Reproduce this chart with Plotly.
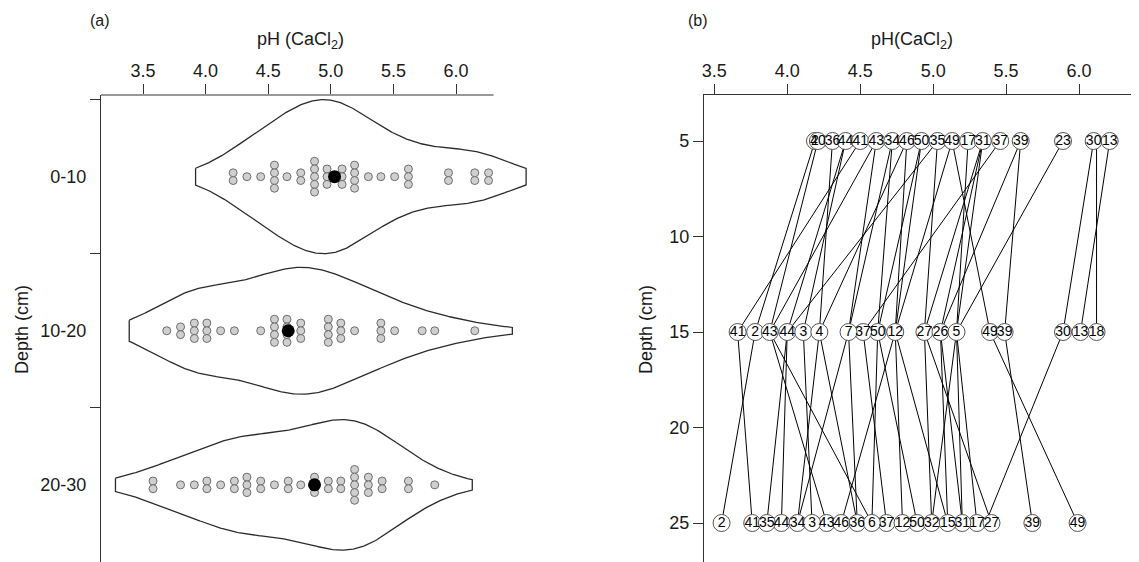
import numpy as np
import plotly.graph_objects as go

FONT = "Liberation Sans, Arial, Helvetica, sans-serif"

# ---------------- Panel (a): pH by depth class (dot columns + violin) ----------------
depth_classes = ["0-10", "10-20", "20-30"]

ph_bins_0_10 = [4.22, 4.33, 4.44, 4.55, 4.65, 4.76, 4.87, 4.97, 5.09, 5.19, 5.30, 5.40, 5.51, 5.62, 5.94, 6.15, 6.26]
counts_0_10 = [2, 1, 1, 4, 1, 2, 5, 3, 3, 4, 1, 1, 1, 3, 2, 2, 2]

ph_bins_10_20 = [3.69, 3.80, 3.91, 4.01, 4.12, 4.23, 4.44, 4.55, 4.65, 4.76, 4.98, 5.08, 5.19, 5.40, 5.51, 5.73, 5.83, 6.15]
counts_10_20 = [1, 2, 3, 3, 1, 1, 1, 4, 4, 3, 4, 3, 1, 3, 1, 1, 1, 1]

ph_bins_20_30 = [3.58, 3.80, 3.91, 4.01, 4.12, 4.23, 4.33, 4.44, 4.55, 4.66, 4.76, 4.87, 4.98, 5.08, 5.19, 5.30, 5.41, 5.62, 5.83]
counts_20_30 = [2, 1, 1, 2, 1, 2, 3, 2, 1, 2, 1, 3, 2, 2, 5, 3, 2, 2, 1]

mean_ph = [5.03, 4.66, 4.87]

# ---------------- Panel (b): individual profiles (pH at 5, 15, 25 cm) ----------------
sample_ids = ["2", "40", "36", "44", "41", "43", "34", "46", "50", "35", "49", "17", "31", "37", "39",
              "23", "18", "30", "13", "3", "4", "7", "12", "27", "26", "5", "6", "32", "15"]
ph_5cm = [4.19, 4.21, 4.31, 4.40, 4.50, 4.61, 4.72, 4.82, 4.92, 5.03, 5.13, 5.24, 5.34, 5.46, 5.60,
          5.89, 6.12, 6.10, 6.21, 4.40, 4.82, 4.61, 5.13, 5.03, 5.60, 5.34, 4.72, 5.34, 4.92]
ph_15cm = [3.78, 3.88, 4.22, 4.00, 3.66, 3.88, 4.42, 4.74, 4.62, 4.00, 5.39, 5.16, 5.05, 4.52, 5.49,
           5.16, 6.12, 5.89, 6.01, 4.11, 4.22, 4.42, 4.74, 4.94, 5.05, 5.16, 4.62, 4.94, 4.74]
ph_25cm = [3.55, 4.58, 4.48, 3.96, 3.76, 4.27, 4.07, 4.37, 4.89, 3.86, 5.99, 5.30, 5.20, 4.68, 5.68,
           4.99, None, 5.36, None, 4.17, 4.07, 4.48, 4.79, 5.40, 5.10, 5.20, 4.58, 4.99, 5.10]
depths_cm = [5, 15, 25]
# labels that are covered by other circles in the original figure
hidden_labels = ["40@15", "40@25", "36@15", "34@15", "46@15", "35@15", "17@15", "31@15",
                 "23@15", "23@25", "18@5", "30@25", "3@5", "4@5", "4@25", "7@5", "7@25", "12@5",
                 "27@5", "26@5", "26@25", "5@5", "5@25", "6@5", "6@15", "32@5", "32@15", "15@5", "15@15"]

fig = go.Figure()

# ---- violins (Gaussian KDE, bw.nrd bandwidth, computed from the dot data) ----
def expand(bins, counts):
    out = []
    for b, c in zip(bins, counts):
        out += [b] * c
    return np.array(out)

def bw_nrd(x):
    sd = np.std(x, ddof=1)
    iqr = (np.percentile(x, 75) - np.percentile(x, 25)) / 1.34
    return 1.06 * min(sd, iqr) * len(x) ** -0.2

def kde(vals, grid, bw):
    v = vals[:, None]
    return np.exp(-0.5 * ((grid[None, :] - v) / bw) ** 2).sum(0) / (len(vals) * bw * np.sqrt(2 * np.pi))

groups = [(ph_bins_0_10, counts_0_10), (ph_bins_10_20, counts_10_20), (ph_bins_20_30, counts_20_30)]
EXT = 0.3
curves = []
for bins, counts in groups:
    vals = expand(bins, counts)
    grid = np.linspace(vals.min() - EXT, vals.max() + EXT, 300)
    curves.append((grid, kde(vals, grid, bw_nrd(vals))))
scale = 0.5 / max(d.max() for _, d in curves)

for pos, (grid, dens) in enumerate(curves):
    hw = dens * scale
    xs = np.concatenate([grid, grid[::-1], grid[:1]])
    ys = np.concatenate([pos - hw, (pos + hw)[::-1], [pos - hw[0]]])
    fig.add_trace(go.Scatter(x=xs, y=ys, mode="lines", line=dict(color="#2b2b2b", width=1.3),
                             fill="toself", fillcolor="white", hoverinfo="skip", showlegend=False,
                             xaxis="x", yaxis="y"))

# ---- stacked dots ----
STEP = 0.05
dx, dy = [], []
for pos, (bins, counts) in enumerate(groups):
    for b, c in zip(bins, counts):
        for j in range(c):
            dx.append(b)
            dy.append(pos + (j - (c - 1) / 2) * STEP)
fig.add_trace(go.Scatter(x=dx, y=dy, mode="markers",
                         marker=dict(size=8, color="#cfcfcf", line=dict(color="#6e6e6e", width=1)),
                         showlegend=False, xaxis="x", yaxis="y"))
fig.add_trace(go.Scatter(x=mean_ph, y=list(range(len(mean_ph))), mode="markers",
                         marker=dict(size=13, color="black"), showlegend=False, xaxis="x", yaxis="y"))

# ---- panel (b) lines ----
lx, ly = [], []
for i in range(len(sample_ids)):
    pts = [(v, d) for v, d in zip((ph_5cm[i], ph_15cm[i], ph_25cm[i]), depths_cm) if v is not None]
    if len(pts) >= 2:
        for v, d in pts:
            lx.append(v)
            ly.append(d)
        lx.append(None)
        ly.append(None)
fig.add_trace(go.Scatter(x=lx, y=ly, mode="lines", line=dict(color="black", width=1),
                         showlegend=False, xaxis="x2", yaxis="y2", hoverinfo="skip"))

for vals, d in zip((ph_5cm, ph_15cm, ph_25cm), depths_cm):
    keep = [k for k, v in enumerate(vals) if v is not None and f"{sample_ids[k]}@{d}" not in hidden_labels]
    fig.add_trace(go.Scatter(x=[vals[k] for k in keep], y=[d] * len(keep), mode="markers+text",
                             text=[sample_ids[k] for k in keep], textposition="middle center",
                             textfont=dict(family=FONT, size=14, color="black"),
                             marker=dict(size=17, color="white", line=dict(color="#555555", width=1)),
                             showlegend=False, xaxis="x2", yaxis="y2"))

# ---------------- layout ----------------
W, H = 1139, 562
OFF = 8  # page body margin offset of the rendered figure

def px_x(p):
    return (p - OFF) / W

def px_y(p):
    return 1 - (p - OFF) / H

top_px = 95
ytop = px_y(top_px)

# panel (a) x scale: 125.2 px per pH unit, 3.5 at px 143
xa_left, xa_right = 101, 535
xa_r0 = 3.5 - (143 - xa_left) / 125.2
xa_r1 = xa_r0 + (xa_right - xa_left) / 125.2
# panel (a) y scale: 154.1 px per class, class 0 at px 176.7
ya_r0 = -0.53
ya_r1 = ya_r0 + (H - (top_px - OFF)) / 154.1

# panel (b) x scale: 145.9 px per pH unit, 3.5 at px 714.3
xb_left = 704
xb_r0 = 3.5 - (714.3 - xb_left) / 145.9
xb_r1 = xb_r0 + (W - (xb_left - OFF)) / 145.9
# panel (b) y scale: 19.1 px per cm, 5 cm at px 141
yb_r0 = 5 - (141 - top_px) / 19.1
yb_r1 = yb_r0 + (H - (top_px - OFF)) / 19.1

axis_font = dict(family=FONT, size=18, color="#1a1a1a")
phticks = [3.5, 4.0, 4.5, 5.0, 5.5, 6.0]

def title_ann(text, x, y, angle=0):
    return dict(text=text, xref="paper", yref="paper", x=px_x(x), y=px_y(y), showarrow=False,
                textangle=angle, font=axis_font, xanchor="center", yanchor="middle")

fig.update_layout(
    width=W, height=H, margin=dict(l=0, r=0, t=0, b=0),
    paper_bgcolor="white", plot_bgcolor="white",
    font=dict(family=FONT, size=18, color="#1a1a1a"),
    xaxis=dict(domain=[px_x(xa_left), px_x(xa_right)], range=[xa_r0, xa_r1], side="top", anchor="y",
               tickvals=phticks, ticktext=[f"{t:.1f}" for t in phticks],
               ticks="outside", ticklen=10, tickcolor="#333", showline=False, showgrid=False,
               zeroline=False, tickfont=axis_font, automargin=False),
    yaxis=dict(domain=[0, ytop], range=[ya_r1, ya_r0], anchor="x",
               tickvals=[0, 1, 2], ticktext=depth_classes, ticks="outside", ticklen=10,
               tickcolor="rgba(0,0,0,0)", showline=True, linecolor="#333", linewidth=1.2,
               showgrid=False, zeroline=False, tickfont=axis_font, automargin=False,
               minor=dict(tickmode="array", tickvals=[-0.5, 0.5, 1.5], ticks="outside", ticklen=10,
                          tickcolor="#333", showgrid=False)),
    xaxis2=dict(domain=[px_x(xb_left), 1.0], range=[xb_r0, xb_r1], side="top", anchor="y2",
                tickvals=phticks, ticktext=[f"{t:.1f}" for t in phticks],
                ticks="outside", ticklen=10, tickcolor="#333", showline=True, linecolor="#333",
                linewidth=1.2, showgrid=False, zeroline=False, tickfont=axis_font, automargin=False),
    yaxis2=dict(domain=[0, ytop], range=[yb_r1, yb_r0], anchor="x2",
                tickvals=[5, 10, 15, 20, 25], ticks="outside", ticklen=10, tickcolor="#333",
                showline=True, linecolor="#333", linewidth=1.2, showgrid=False, zeroline=False,
                tickfont=axis_font, automargin=False),
    shapes=[dict(type="line", xref="x", yref="paper", x0=xa_r0, x1=6.30, y0=ytop, y1=ytop,
                 line=dict(color="#333", width=1.2))],
    annotations=[
        dict(text="(a)", xref="paper", yref="paper", x=px_x(100), y=px_y(20), showarrow=False,
             font=dict(family=FONT, size=16, color="#1a1a1a"), xanchor="center", yanchor="middle"),
        dict(text="(b)", xref="paper", yref="paper", x=px_x(698), y=px_y(20), showarrow=False,
             font=dict(family=FONT, size=16, color="#1a1a1a"), xanchor="center", yanchor="middle"),
        title_ann("pH (CaCl<sub>2</sub>)", 300, 41),
        title_ann("pH(CaCl<sub>2</sub>)", 912, 41),
        title_ann("Depth (cm)", 22, 330, -90),
        title_ann("Depth (cm)", 646, 330, -90),
    ],
)

fig.write_html("out.html")
